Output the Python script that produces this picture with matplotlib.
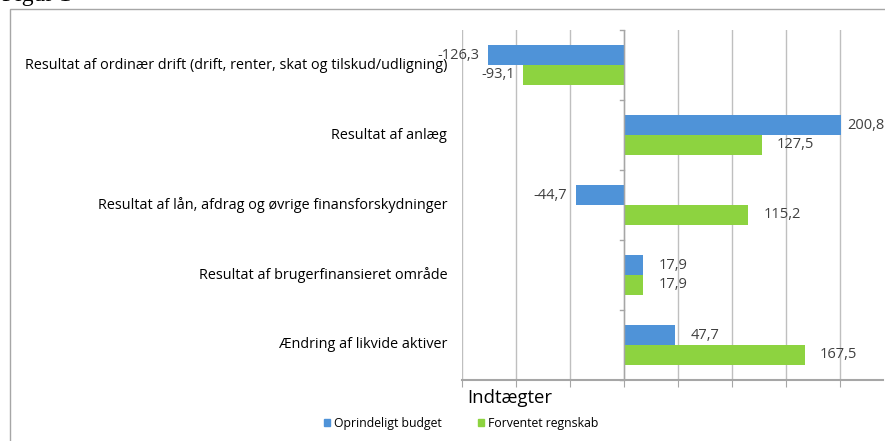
import matplotlib.pyplot as plt
import matplotlib.patches as mpatches
import numpy as np

# data
categories = [
    "Resultat af ordinær drift (drift, renter, skat og tilskud/udligning)",
    "Resultat af anlæg",
    "Resultat af lån, afdrag og øvrige finansforskydninger",
    "Resultat af brugerfinansieret område",
    "Ændring af likvide aktiver",
]
budget = [-126.3, 200.8, -44.7, 17.9, 47.7]
regnskab = [-93.1, 127.5, 115.2, 17.9, 167.5]
series_names = ["Oprindeligt budget", "Forventet regnskab"]
x_ticks = [-150, -100, -50, 0, 50, 100, 150, 200]

blue = "#4f93d8"
green = "#8dd340"
text_col = "#404040"

plt.rcParams['font.family'] = ['Open Sans', 'DejaVu Sans']

fig = plt.figure(figsize=(8.85, 4.41), dpi=100)
W, H = 885, 441

# chart frame (cut off at right/bottom)
fig.patches.append(mpatches.Rectangle((10 / W, -0.1), 1.0, 1 - 9 / H + 0.1,
                                      transform=fig.transFigure, fill=False,
                                      edgecolor="#a6a6a6", linewidth=1.0))
fig.text(2 / W, 1 - 1 / H, "Figur 1", family="Liberation Serif",
         fontsize=17, va="baseline", ha="left", color="black")

ax = fig.add_axes([462 / W, 1 - 380 / H, (883 - 462) / W, (380 - 30) / H])

y = np.arange(len(categories))
h = 0.28
ax.barh(y - h / 2, budget, height=h, color=blue, label=series_names[0])
ax.barh(y + h / 2, regnskab, height=h, color=green, label=series_names[1])

ax.set_xlim(-150, 240)
ax.set_ylim(len(categories) - 0.5, -0.5)

# data labels
for vals, off in [(budget, -h / 2), (regnskab, h / 2)]:
    for i, v in enumerate(vals):
        lab = f"{v:.1f}".replace(".", ",")
        if v < 0:
            ax.annotate(lab, (v, i + off), xytext=(-6, 0), textcoords="offset points",
                        ha="right", va="center", fontsize=10.5, color=text_col,
                        annotation_clip=False)
        else:
            # label pulled in a bit when it runs into the edge
            pad = 5 if v > 190 else 11
            ax.annotate(lab, (v, i + off), xytext=(pad, 0), textcoords="offset points",
                        ha="left", va="center", fontsize=10.5, color=text_col,
                        annotation_clip=False)

# grid
ax.set_xticks(x_ticks)
ax.set_xticklabels([])
ax.grid(axis="x", color="#bfbfbf", linewidth=1.0)
ax.set_axisbelow(True)
ax.tick_params(axis="x", direction="out", length=5, color="#a6a6a6")

# y axis at zero with tick marks between categories
for s in ["top", "right", "left"]:
    ax.spines[s].set_visible(False)
ax.spines["bottom"].set_color("#a6a6a6")
ax.spines["bottom"].set_linewidth(1.5)
ax.axvline(0, color="#a6a6a6", linewidth=1.0, zorder=1)
ax.set_yticks([])
for b in np.arange(-0.5, len(categories), 1.0):
    ax.plot([-4, 0], [b, b], color="#a6a6a6", linewidth=1.0, clip_on=False)

# category labels at low position
for i, c in enumerate(categories):
    ax.text(-0.035, i, c, transform=ax.get_yaxis_transform(), ha="right",
            va="center", fontsize=10.4, color="black")

ax.text(0.012, -0.025, "Indtægter", transform=ax.transAxes, ha="left", va="top",
        fontsize=13.3, color="black")

handles = [mpatches.Patch(color=blue), mpatches.Patch(color=green)]
fig.legend(handles, series_names, loc="center left", bbox_to_anchor=(313 / W, 1 - 423 / H),
           ncol=2, frameon=False, fontsize=8.8, handlelength=0.5, handleheight=0.5,
           handletextpad=0.3, columnspacing=3.0)

fig.savefig("out.png", dpi=100)
